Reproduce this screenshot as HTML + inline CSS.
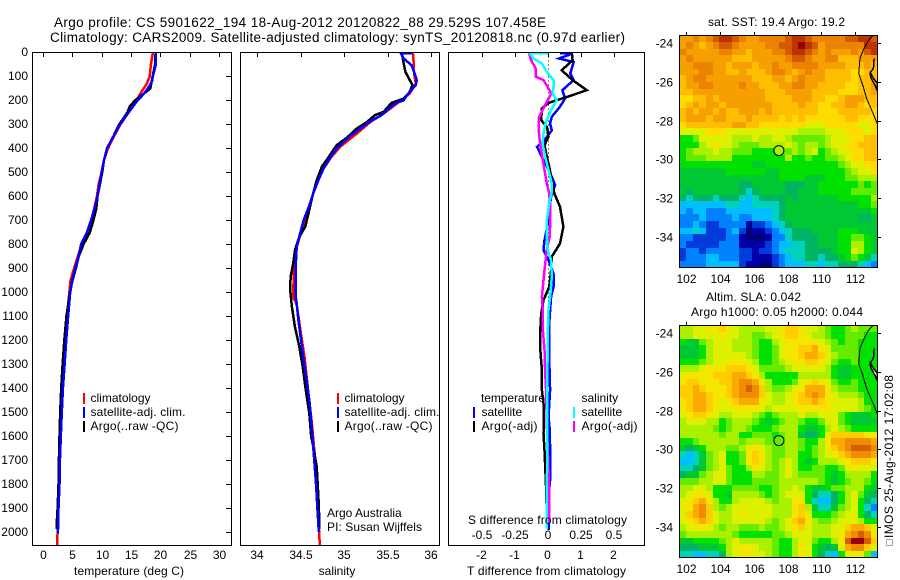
<!DOCTYPE html>
<html lang="en">
<head>
<meta charset="utf-8">
<title>Argo profile CS 5901622_194</title>
<style>
html,body{margin:0;padding:0;background:#fff;}
svg{display:block;}
text{font-family:"Liberation Sans",sans-serif;font-size:12px;fill:#000;}
.title{font-size:13.5px;}
.frame{fill:none;stroke:#000;stroke-width:1;shape-rendering:crispEdges;}
</style>
</head>
<body>
<svg id="chart" xmlns="http://www.w3.org/2000/svg" width="900" height="580" viewBox="0 0 900 580">
  <rect x="0" y="0" width="900" height="580" fill="#fff"/>
  <defs>
    <clipPath id="clip1"><rect x="33" y="53" width="198" height="492"/></clipPath>
    <clipPath id="clip2"><rect x="241" y="53" width="198" height="492"/></clipPath>
    <clipPath id="clip3"><rect x="449" y="53" width="195" height="492"/></clipPath>
    <clipPath id="clipMap1"><rect x="680" y="36" width="197" height="231"/></clipPath>
    <clipPath id="clipMap2"><rect x="680" y="326" width="197" height="231"/></clipPath>
  </defs>

  <text class="title" x="54" y="27" textLength="492" lengthAdjust="spacing">Argo profile: CS 5901622_194 18-Aug-2012 20120822_88 29.529S 107.458E</text>
  <text class="title" x="50" y="42" textLength="575" lengthAdjust="spacing">Climatology: CARS2009. Satellite-adjusted climatology: synTS_20120818.nc (0.97d earlier)</text>

  <g id="map1Cells"></g>
  <g id="map2Cells"></g>
  <g id="plotLayer"></g>
  <g id="tickLayer"></g>

  <rect class="frame" x="32.5" y="52.5" width="199" height="493"/>
  <rect class="frame" x="240.5" y="52.5" width="199" height="493"/>
  <rect class="frame" x="448.5" y="52.5" width="196" height="493"/>
  <rect class="frame" x="679.5" y="35.5" width="198" height="232"/>
  <rect class="frame" x="679.5" y="325.5" width="198" height="232"/>

  <text x="74" y="575" textLength="110" lengthAdjust="spacing">temperature (deg C)</text>
  <text x="337" y="575" text-anchor="middle">salinity</text>
  <text x="467" y="575" textLength="159" lengthAdjust="spacing">T difference from climatology</text>
  <text x="468" y="524" textLength="159" lengthAdjust="spacing">S difference from climatology</text>

  <g>
    <rect x="83" y="393" width="2" height="11" fill="#f00"/>
    <text x="90.5" y="402">climatology</text>
    <rect x="83" y="407" width="2" height="11" fill="#00f"/>
    <text x="90.5" y="416" textLength="95" lengthAdjust="spacing">satellite-adj. clim.</text>
    <rect x="83" y="421" width="2" height="11" fill="#000"/>
    <text x="90.5" y="430" textLength="88" lengthAdjust="spacing">Argo(..raw -QC)</text>
  </g>
  <g>
    <rect x="337" y="393" width="2" height="11" fill="#f00"/>
    <text x="344.5" y="402">climatology</text>
    <rect x="337" y="407" width="2" height="11" fill="#00f"/>
    <text x="344.5" y="416" textLength="95" lengthAdjust="spacing">satellite-adj. clim.</text>
    <rect x="337" y="421" width="2" height="11" fill="#000"/>
    <text x="344.5" y="430" textLength="88" lengthAdjust="spacing">Argo(..raw -QC)</text>
  </g>
  <text x="327" y="517">Argo Australia</text>
  <text x="327" y="531" textLength="95" lengthAdjust="spacing">PI: Susan Wijffels</text>

  <g>
    <text x="481" y="402" textLength="64" lengthAdjust="spacing">temperature</text>
    <rect x="473" y="407" width="2" height="11" fill="#00f"/>
    <text x="481.5" y="416">satellite</text>
    <rect x="473" y="421" width="2" height="11" fill="#000"/>
    <text x="481.5" y="430" textLength="56" lengthAdjust="spacing">Argo(-adj)</text>
    <text x="581.5" y="402">salinity</text>
    <rect x="573" y="407" width="2" height="11" fill="#0ff"/>
    <text x="581.5" y="416">satellite</text>
    <rect x="573" y="421" width="2" height="11" fill="#f0f"/>
    <text x="581.5" y="430" textLength="56" lengthAdjust="spacing">Argo(-adj)</text>
  </g>

  <text x="708" y="26" textLength="137" lengthAdjust="spacing">sat. SST: 19.4  Argo: 19.2</text>
  <text x="706" y="301" textLength="95" lengthAdjust="spacing">Altim. SLA: 0.042</text>
  <text x="691" y="316" textLength="172" lengthAdjust="spacing">Argo h1000: 0.05 h2000: 0.044</text>

  <rect x="886.5" y="539.5" width="6" height="6" fill="none" stroke="#555" stroke-width="1" stroke-dasharray="1 1"/>
  <text transform="translate(893,538) rotate(-90)" textLength="163" lengthAdjust="spacing">IMOS 25-Aug-2012 17:02:08</text>
</svg>

<script>
/* ---------- axis tick values ---------- */
const depthTicks = [0,100,200,300,400,500,600,700,800,900,1000,1100,1200,1300,1400,1500,1600,1700,1800,1900,2000];
const tempTicks = [0,5,10,15,20,25,30];
const salTicks = [34,34.5,35,35.5,36];
const tDiffTicks = [-2,-1,0,1,2];
const tDiffLabels = ["-2","-1","0","1","2"];
const sDiffTicks = [-0.5,-0.25,0,0.25,0.5];
const sDiffLabels = ["-0.5","-0.25","0","0.25","0.5"];
const lonTicks = [102,104,106,108,110,112];
const latTicks = [24,26,28,30,32,34];

/* ---------- temperature profiles ---------- */
const tempClimDepth = [0,50,100,130,160,200,250,300,350,400,450,500,550,600,700,750,800,900,950,1000,1100,1200,1300,1400,1500,1600,1700,1800,1900,2000,2060];
const tempClimVals = [18.65,18.3,18.1,17.6,16.8,15.8,14.5,13.1,12,11,10.3,9.9,9.4,9.1,8.2,7.4,6.5,5.2,4.6,4.4,4,3.7,3.45,3.2,3,2.85,2.75,2.65,2.55,2.4,2.3];
const tempSatDepth = [0,50,100,120,150,175,200,250,300,350,400,450,500,600,650,700,750,800,850,900,950,1000,1100,1200,1300,1400,1500,1600,1700,1800,1900,2005];
const tempSatVals = [19.1,19.15,18.65,18.5,17.8,17,16,14.5,13,11.9,10.8,10.3,9.9,9.2,8.7,8.1,7.4,6.4,6,5.4,4.9,4.55,4.2,3.87,3.6,3.3,3.12,2.95,2.8,2.73,2.56,2.45];
const tempArgoDepth = [0,50,100,150,175,200,225,250,300,350,400,450,500,600,650,700,750,800,850,900,950,1000,1100,1200,1300,1400,1500,1600,1700,1800,1900,1950,1985];
const tempArgoVals = [19.1,19,18.6,18.2,16.9,15.6,14.7,14.3,12.9,11.9,10.8,10.3,10,9.2,9,8.5,7.9,6.8,6,5.5,4.95,4.5,3.9,3.55,3.25,3.02,2.85,2.73,2.62,2.56,2.4,2.28,2.28];

/* ---------- salinity profiles ---------- */
const salClimDepth = [4,87,129,171,219,254,289,338,393,435,504,587,657,740,810,879,1018,1050,1198,1268,1434,1546,1684,1851,2018,2060];
const salClimVals = [35.79,35.8,35.82,35.75,35.58,35.45,35.3,35.14,34.95,34.85,34.72,34.64,34.59,34.51,34.45,34.42,34.41,34.45,34.51,34.54,34.59,34.625,34.66,34.69,34.71,34.72];
const salSatDepth = [2,4,25,53,81,115,136,157,178,199,212,240,265,282,307,338,365,400,435,483,532,587,643,699,754,810,879,1018,1046,1115,1198,1282,1379,1462,1573,1684,1809,1907,1997];
const salSatVals = [35.79,35.65,35.68,35.77,35.8,35.83,35.82,35.76,35.72,35.68,35.58,35.49,35.41,35.31,35.22,35.1,35.01,34.91,34.84,34.76,34.7,34.64,34.59,34.53,34.49,34.45,34.44,34.44,34.45,34.47,34.5,34.53,34.57,34.6,34.625,34.65,34.675,34.69,34.705];
const salArgoDepth = [4,46,81,115,136,164,192,210,247,261,289,317,354,386,435,476,532,601,664,726,768,824,879,935,990,1059,1143,1226,1309,1407,1504,1601,1657,1726,1851,1948,1985];
const salArgoVals = [35.66,35.68,35.7,35.75,35.78,35.75,35.68,35.54,35.45,35.35,35.26,35.14,35.03,34.91,34.82,34.74,34.68,34.63,34.59,34.55,34.48,34.43,34.41,34.38,34.376,34.395,34.43,34.48,34.52,34.555,34.595,34.617,34.65,34.68,34.7,34.71,34.71];

/* ---------- difference profiles ---------- */
const tSatDepth = [2,4,25,40,88,115,157,192,226,268,296,324,365,393,435,476,518,553,601,657,713,782,824,865,921,976,1018,1129,1268,1407,1448,1518,1559,1643,1740,1782,1851,1990];
const tSatVals = [0.35,0.73,0.32,0.76,0.66,0.76,0.42,0.5,0.35,0.1,0.05,0.1,-0.12,-0.35,-0.2,-0.05,0.1,0.2,0.08,0.02,-0.02,-0.12,-0.15,0,0.15,0.15,0.08,0.02,0.02,0.05,0.03,0,0.03,0.05,0.05,0.05,0,0];
const tArgoDepth = [4,32,74,115,157,185,210,233,282,310,351,386,435,476,546,588,643,726,796,851,907,976,1032,1087,1157,1240,1323,1407,1476,1587,1657,1726,1823,1948];
const tArgoVals = [0.71,0.73,0.4,0.73,1.16,0.56,0,-0.2,-0.22,-0.05,0,-0.12,-0.05,0.02,0.12,0.18,0.35,0.45,0.35,0.1,0.08,0.02,-0.15,-0.22,-0.25,-0.25,-0.2,-0.2,-0.14,-0.15,-0.12,-0.1,-0.07,-0.05];
const sSatDepth = [2,4,25,46,81,115,143,171,199,240,289,338,379,435,490,546,581,629,699,768,824,865,935,1018,1073,1171,1337,1546,1684,1823,1983];
const sSatVals = [0,-0.139,-0.114,-0.05,-0.013,0.038,0.038,0.03,0.063,0.02,-0.02,-0.038,-0.045,-0.025,0,0.025,0.025,0.005,-0.013,-0.013,-0.005,0.02,0.025,0.013,0,-0.005,-0.008,-0.008,-0.01,-0.013,-0.013];
const sArgoDepth = [4,32,67,101,115,150,171,206,233,275,317,358,428,490,546,588,643,713,768,824,879,949,1018,1059,1143,1240,1337,1407,1546,1657,1823,1962];
const sArgoVals = [-0.147,-0.132,-0.096,-0.096,-0.038,0,0.02,-0.013,-0.038,-0.076,-0.076,-0.068,-0.05,-0.03,-0.013,0.005,0.015,0.013,0.008,-0.013,-0.025,-0.038,-0.05,-0.045,-0.045,-0.03,-0.025,-0.018,-0.013,-0.005,0.005,0.005];

/* ---------- map data (colour-scale levels, 0 = coldest/lowest, 18 = warmest/highest) ---------- */
const sstLevels = [
[14,14,15,14,15,16,17,17,16,15,14,14,15,15,15,15,16,17,17,16,15,15,15,15,15,16,16,17,17,16],
[14,15,14,13,14,15,16,16,15,14,14,14,14,15,15,16,16,17,18,17,16,14,15,15,15,15,15,15,17,17],
[15,14,14,14,14,14,15,15,14,14,13,14,14,14,15,15,16,17,17,16,15,14,15,14,14,14,15,14,16,17],
[14,15,14,14,14,14,14,14,13,13,13,14,14,14,14,14,15,16,16,15,14,14,15,15,13,13,13,14,14,14],
[14,14,15,15,15,14,14,13,14,14,14,13,14,14,15,14,14,15,15,15,15,14,14,14,14,13,13,13,14,13],
[14,14,14,15,15,14,14,13,13,14,13,13,13,14,15,15,14,13,14,15,14,14,13,13,13,13,12,12,13,13],
[13,14,15,15,14,14,14,14,14,14,14,13,13,13,14,14,13,14,15,14,14,14,13,13,13,13,12,13,13,13],
[13,14,14,15,15,14,14,14,14,15,14,14,13,13,13,14,14,15,15,14,14,13,13,13,13,12,12,13,13,14],
[13,13,14,14,14,14,14,14,14,14,14,14,14,13,13,13,14,14,14,14,13,13,13,13,12,12,12,13,13,14],
[12,12,13,13,14,13,14,14,14,14,14,14,14,13,13,13,13,14,14,14,13,13,12,12,13,14,14,14,13,13],
[12,13,14,13,14,14,13,14,14,14,14,14,14,14,13,13,13,13,14,13,13,12,12,13,13,14,14,13,12,13],
[13,14,13,14,14,13,14,13,13,14,14,14,13,14,13,13,13,13,13,13,13,12,12,12,13,13,13,13,13,12],
[13,14,14,14,13,14,14,13,13,13,14,13,13,13,13,12,13,12,13,12,12,12,12,12,12,13,13,12,12,12],
[12,13,13,13,13,13,13,13,14,14,13,13,12,12,12,12,12,12,12,11,11,11,12,12,12,12,12,11,11,12],
[11,11,11,11,12,12,12,11,11,11,11,11,11,11,11,11,11,11,10,10,10,10,11,11,11,12,12,12,11,12],
[8,8,9,11,11,11,11,11,10,10,10,11,10,10,11,11,10,9,9,9,9,9,10,11,11,11,12,12,13,13],
[8,8,8,10,11,12,11,11,10,9,9,9,10,10,10,10,11,10,9,10,10,9,10,11,11,12,12,13,13,13],
[8,9,10,10,10,11,10,10,9,9,9,8,8,8,8,9,9,10,9,10,11,8,9,10,11,11,12,12,13,13],
[8,9,9,9,10,10,10,10,8,8,8,8,8,8,8,8,10,8,8,9,8,8,9,9,10,11,12,12,13,13],
[8,8,8,8,8,8,8,8,8,8,8,7,7,8,8,8,8,8,8,8,8,8,8,8,9,10,11,11,12,12],
[7,7,7,7,7,7,7,8,8,8,8,8,8,7,7,8,8,8,8,8,8,8,8,8,8,9,10,11,11,12],
[7,7,7,7,7,7,7,7,7,7,7,7,7,7,7,8,8,8,8,7,7,7,8,8,8,9,9,10,10,10],
[7,7,7,7,7,7,7,7,7,6,6,7,7,7,7,7,6,6,6,7,7,8,8,8,8,8,8,9,8,9],
[7,6,7,7,7,7,7,7,7,6,5,6,7,7,7,7,6,6,7,7,7,8,8,8,8,8,9,9,9,9],
[6,5,6,6,6,5,6,6,6,5,4,5,6,6,6,6,7,6,7,7,7,7,7,7,8,8,8,8,8,10],
[4,4,4,4,4,4,4,5,5,4,4,5,5,5,5,6,7,7,7,7,7,7,7,7,7,7,7,8,8,9],
[4,3,4,4,3,3,3,4,4,4,4,4,4,4,5,6,7,7,7,7,7,7,7,7,7,7,7,7,7,8],
[3,3,3,4,3,3,3,3,4,3,3,4,4,4,5,6,7,7,7,7,7,7,7,7,7,7,7,6,6,7],
[3,3,4,3,2,2,3,3,3,3,1,2,2,3,4,5,6,7,7,7,7,7,7,7,7,7,7,7,7,7],
[4,4,5,4,2,2,2,3,4,2,0,1,1,2,3,4,5,6,6,6,7,7,7,7,8,8,8,7,7,7],
[3,3,2,2,2,2,2,3,3,1,0,0,0,1,3,3,5,6,6,6,6,7,7,7,8,8,9,9,8,7],
[3,2,2,2,2,2,3,3,3,1,1,1,1,2,3,4,4,5,5,6,6,7,7,7,8,8,10,10,8,7],
[2,3,3,2,3,3,3,3,3,2,2,1,2,2,3,4,5,5,5,6,6,6,6,7,8,8,11,10,8,7],
[2,3,3,3,4,4,3,3,3,2,2,1,1,1,2,3,4,5,5,6,6,5,6,6,7,8,9,8,7,5],
[3,3,3,3,4,4,4,4,4,2,1,1,0,0,2,3,4,4,4,5,5,4,5,5,6,6,6,5,4,3]
];
const slaLevels = [
[10,10,11,11,12,12,13,12,11,10,10,10,10,11,11,12,13,13,12,11,11,10,9,8,8,9,10,9,9,9],
[10,10,11,11,11,11,12,11,11,10,10,9,9,10,11,12,13,13,12,11,10,10,9,8,8,9,9,9,8,8],
[8,7,7,9,10,11,11,11,10,10,10,9,8,8,10,11,12,12,12,12,12,11,10,9,8,9,9,8,8,8],
[7,7,7,8,10,11,11,11,10,10,10,9,8,8,9,11,12,12,13,13,14,12,11,9,9,9,9,8,8,8],
[7,7,7,8,10,11,11,11,11,11,10,9,8,8,9,11,12,12,13,14,14,13,11,10,9,9,9,8,8,8],
[8,8,8,9,10,11,11,12,12,12,11,10,8,8,9,10,11,12,12,13,13,12,11,9,8,8,9,8,8,8],
[10,10,10,11,12,12,12,13,13,13,12,11,9,9,9,9,10,11,11,11,11,11,10,8,7,7,8,8,8,8],
[11,12,12,12,12,13,13,13,14,14,13,12,10,8,8,8,8,8,10,10,10,10,10,8,7,7,8,8,8,8],
[12,13,13,12,12,12,13,13,14,15,15,14,12,10,8,8,8,9,11,12,13,12,11,9,8,8,9,8,8,8],
[13,13,14,13,12,12,12,13,14,15,16,15,13,10,9,9,10,11,12,14,14,14,12,10,9,9,9,8,8,8],
[13,13,14,14,13,12,12,13,14,15,15,15,13,11,10,10,11,12,13,14,15,14,12,11,10,10,10,9,8,8],
[12,13,14,14,13,12,11,12,13,14,14,14,12,11,10,10,11,12,13,13,14,13,12,11,11,11,11,10,8,8],
[12,13,14,14,13,12,11,11,12,12,12,12,11,10,11,11,11,11,12,12,12,12,12,11,11,11,11,10,9,8],
[11,12,13,13,12,11,10,10,11,11,11,10,9,8,9,10,10,10,11,10,10,11,11,11,9,8,7,7,7,8],
[10,11,11,11,10,10,8,9,10,10,10,9,8,7,8,9,10,10,9,8,8,9,11,11,9,8,7,7,7,7],
[10,10,10,10,10,9,8,9,10,10,9,8,8,8,9,10,10,10,8,7,7,8,10,11,10,9,8,8,8,8],
[10,10,10,10,10,10,9,10,10,8,8,9,9,9,8,9,10,10,7,6,6,8,11,13,13,13,13,13,12,12],
[8,8,9,10,10,10,10,10,10,9,10,10,10,9,9,9,10,10,9,8,8,10,12,14,14,15,15,15,15,14],
[7,6,7,8,10,10,10,9,9,10,11,12,11,10,9,9,10,10,9,8,9,10,12,13,14,15,16,16,16,15],
[5,4,5,7,9,10,11,8,8,9,12,13,12,10,9,9,10,10,8,8,9,10,11,12,13,14,15,15,15,14],
[4,4,5,7,9,10,11,8,8,9,12,13,12,10,9,10,11,10,8,7,8,10,10,10,11,12,13,13,13,12],
[5,5,6,7,9,10,11,9,8,8,10,12,11,10,9,10,11,10,8,8,9,9,8,8,9,11,12,11,11,11],
[6,7,7,9,10,11,11,9,8,8,8,10,10,9,9,10,11,10,9,9,9,9,8,7,8,10,10,10,10,8],
[9,9,9,10,10,11,11,9,8,8,8,9,9,9,9,10,10,10,10,10,10,9,8,7,8,9,10,10,9,8],
[10,10,11,11,10,8,8,8,9,9,9,9,8,8,9,10,10,11,10,8,7,7,8,9,9,10,10,10,8,7],
[10,11,12,12,11,8,8,7,10,10,10,10,9,8,9,10,11,11,11,8,6,5,5,6,8,10,11,9,7,6],
[11,12,13,14,12,10,8,8,10,11,11,11,11,10,9,10,10,12,12,8,5,4,4,6,8,10,11,8,6,5],
[11,12,14,15,13,10,9,10,11,11,11,11,11,11,10,10,10,12,13,10,7,5,5,7,9,10,11,8,5,3],
[11,13,14,15,13,11,10,10,11,12,11,11,11,11,10,10,10,12,13,11,8,8,8,9,10,11,11,8,6,5],
[11,12,13,14,13,11,10,10,11,11,11,11,11,10,9,10,11,13,14,12,10,9,9,10,11,11,11,10,8,8],
[10,11,12,12,11,10,9,10,10,9,9,9,10,9,9,10,11,12,13,11,10,10,10,11,11,13,14,14,13,11],
[9,10,10,10,10,10,10,10,9,8,8,8,8,8,9,9,10,11,11,11,10,10,10,11,12,14,15,16,15,12],
[7,7,8,8,8,8,9,10,11,10,10,10,10,10,9,8,8,10,11,11,9,8,8,10,12,16,18,18,16,13],
[6,6,6,7,7,7,8,10,11,12,12,11,10,10,9,8,8,10,12,11,8,7,6,7,11,14,15,15,13,11],
[5,5,4,4,5,5,6,10,11,12,12,11,11,10,9,8,8,10,12,11,8,6,5,4,8,11,12,11,9,4]
];
const coastLon = [113.03,112.74,112.49,112.25,112.17,112.44,112.64,112.98,113.27];
const coastLat = [23.55,23.84,24.24,24.76,25.53,26.22,26.83,27.52,28.15];
const northIslandLon = [113.08,113.04,112.9];
const northIslandLat = [24.76,25.28,25.45];
const southIslandLon = [112.84,113.04,113.27,113.27,113.13,112.88];
const southIslandLat = [25.45,25.79,26.05,26.43,26.14,25.74];
const argoLon = 107.458;
const argoLat = 29.529;
const argoSstLevel = 9.5;
const argoSlaLevel = 8.5;

/* ---------- colour scales ---------- */
const sstColors = ["#000078","#0000aa","#003cdc","#0082ff","#00beff","#00d2be","#00b464","#00c832","#00e100","#64eb00","#aaf000","#dcf000","#ffdc00","#ffbe00","#f5a000","#eb8200","#d25a00","#be3200","#960000"];
const slaColors = ["#000078","#0000aa","#003cdc","#0082ff","#00beff","#00d2be","#00b464","#00c832","#00e100","#64eb00","#aaf000","#dcf000","#f5e600","#ffcd00","#faaa00","#f08c00","#d75f00","#be3200","#960000"];
function colorOf(palette,v){
  const c = Math.max(0,Math.min(18,Math.round(v)));
  return palette[c];
}

/* ---------- scales ---------- */
const depthY = d => 52.5 + d*0.24;
const tempX = t => 43.5 + t*5.867;
const salX = s => 257.5 + (s-34)*87;
const tDiffX = t => 548.5 + t*33;
const sDiffX = s => 548.5 + s*132;
const lonX = lon => 686.5 + (lon-102)*16.93;
const latY = (lat,off) => 43.7 + off + (lat-24)*19.33;

const NS = "http://www.w3.org/2000/svg";
function make(parent,tag,props,txt){
  const n = document.createElementNS(NS,tag);
  for(const k in props){ n.setAttribute(k,props[k]); }
  if(txt!==undefined){ n.textContent = txt; }
  parent.appendChild(n);
  return n;
}
const plotLayer = document.getElementById("plotLayer");
const tickLayer = document.getElementById("tickLayer");

function drawLine(name,clip,depths,vals,xf,color){
  const pts = depths.map((d,i)=>xf(vals[i]).toFixed(1)+","+depthY(d).toFixed(1)).join(" ");
  const el = make(plotLayer,"polyline",{points:pts,fill:"none",stroke:color,"stroke-width":2.5,"shape-rendering":"crispEdges","clip-path":"url(#"+clip+")"});
  
  
}

/* zero line on difference panel */
const zeroLine = make(plotLayer,"line",{x1:tDiffX(0),x2:tDiffX(0),y1:depthY(0),y2:depthY(1300),stroke:"#000","stroke-width":1,"stroke-dasharray":"1 3","shape-rendering":"crispEdges"});



drawLine("temperature-climatology-line","clip1",tempClimDepth,tempClimVals,tempX,"#f00");
drawLine("temperature-argo-line","clip1",tempArgoDepth,tempArgoVals,tempX,"#000");
drawLine("temperature-satellite-line","clip1",tempSatDepth,tempSatVals,tempX,"#00f");
drawLine("salinity-climatology-line","clip2",salClimDepth,salClimVals,salX,"#f00");
drawLine("salinity-argo-line","clip2",salArgoDepth,salArgoVals,salX,"#000");
drawLine("salinity-satellite-line","clip2",salSatDepth,salSatVals,salX,"#00f");
drawLine("t-difference-satellite-line","clip3",tSatDepth,tSatVals,tDiffX,"#00f");
drawLine("t-difference-argo-line","clip3",tArgoDepth,tArgoVals,tDiffX,"#000");
drawLine("s-difference-argo-line","clip3",sArgoDepth,sArgoVals,sDiffX,"#f0f");
drawLine("s-difference-satellite-line","clip3",sSatDepth,sSatVals,sDiffX,"#0ff");

/* ---------- profile axis ticks ---------- */
function tickLine(name,x1,y1,x2,y2){
  const el = make(tickLayer,"line",{x1:x1,y1:y1,x2:x2,y2:y2,stroke:"#000","stroke-width":1,"shape-rendering":"crispEdges"});
  
  
}
function tickText(name,x,y,anchor,s){
  const el = make(tickLayer,"text",{x:x,y:y,"text-anchor":anchor},s);
  
  
}
depthTicks.forEach(d=>{
  const y = Math.floor(depthY(d))+0.5;
  tickLine("depth-tick",226,y,231,y);
  tickText("depth-tick-label",28,y+3.3,"end",String(d));
});
tempTicks.forEach(t=>{
  const x = Math.floor(tempX(t))+0.5;
  tickLine("temperature-tick",x,53,x,57);
  tickText("temperature-tick-label",x,559,"middle",String(t));
});
salTicks.forEach(s=>{
  const x = Math.floor(salX(s))+0.5;
  tickLine("salinity-tick",x,53,x,57);
  tickText("salinity-tick-label",x-0.5,559,"middle",String(s));
});
tDiffTicks.forEach((t,i)=>{
  const x = Math.floor(tDiffX(t))+0.5;
  tickLine("t-difference-tick",x,53,x,57);
  tickText("t-difference-tick-label",x-1,559,"middle",tDiffLabels[i]);
});
sDiffTicks.forEach((s,i)=>{
  tickText("s-difference-tick-label",sDiffX(s)-0.5,539,"middle",sDiffLabels[i]);
});

/* ---------- maps ---------- */
function drawMap(layerId,levels,palette,off,cellName,clip,landFill,argoLevel,mapName){
  const layer = document.getElementById(layerId);
  const rows = levels.length, cols = levels[0].length;
  const cw = 198/cols, ch = 232/rows;
  levels.forEach((row,r)=>{
    row.forEach((v,c)=>{
      const x0 = Math.round(679.5+c*cw), x1 = Math.round(679.5+(c+1)*cw);
      const y0 = Math.round(35.5+off+r*ch), y1 = Math.round(35.5+off+(r+1)*ch);
      const cell = make(layer,"rect",{x:x0,y:y0,width:x1-x0,height:y1-y0,fill:colorOf(palette,v),"shape-rendering":"crispEdges"});
      
      
    });
  });
  const toPts = (lons,lats)=>lons.map((lon,i)=>lonX(lon).toFixed(1)+","+latY(lats[i],off).toFixed(1)).join(" ");
  const coast = make(layer,"polyline",{points:toPts(coastLon,coastLat),fill:"none",stroke:"#000","stroke-width":1,"shape-rendering":"crispEdges","clip-path":"url(#"+clip+")"});
  
  
  const isleN = make(layer,"polyline",{points:toPts(northIslandLon,northIslandLat),fill:"none",stroke:"#000","stroke-width":1.5,"shape-rendering":"crispEdges","clip-path":"url(#"+clip+")"});
  
  
  const isleS = make(layer,"polygon",{points:toPts(southIslandLon,southIslandLat),fill:landFill,stroke:"#000","stroke-width":1.5,"shape-rendering":"crispEdges","clip-path":"url(#"+clip+")"});
  
  
  const dot = make(layer,"circle",{cx:lonX(argoLon),cy:latY(argoLat,off),r:5,fill:colorOf(palette,argoLevel),stroke:"#000","stroke-width":1});
  
  

  lonTicks.forEach(lon=>{
    const x = Math.floor(lonX(lon))+0.5;
    tickLine(mapName+"-longitude-tick",x,32+off,x,35+off);
    tickText(mapName+"-longitude-label",x,283+off,"middle",String(lon));
  });
  latTicks.forEach(lat=>{
    const y = Math.floor(latY(lat,off))+0.5;
    tickLine(mapName+"-latitude-tick",878,y,881,y);
    tickText(mapName+"-latitude-label",673,y+3.8,"end",String(-lat));
  });
}
drawMap("map1Cells",sstLevels,sstColors,0,"sst-cell","clipMap1","none",argoSstLevel,"sst-map");
drawMap("map2Cells",slaLevels,slaColors,290,"sla-cell","clipMap2","#fff",argoSlaLevel,"sla-map");
</script>
</body>
</html>
